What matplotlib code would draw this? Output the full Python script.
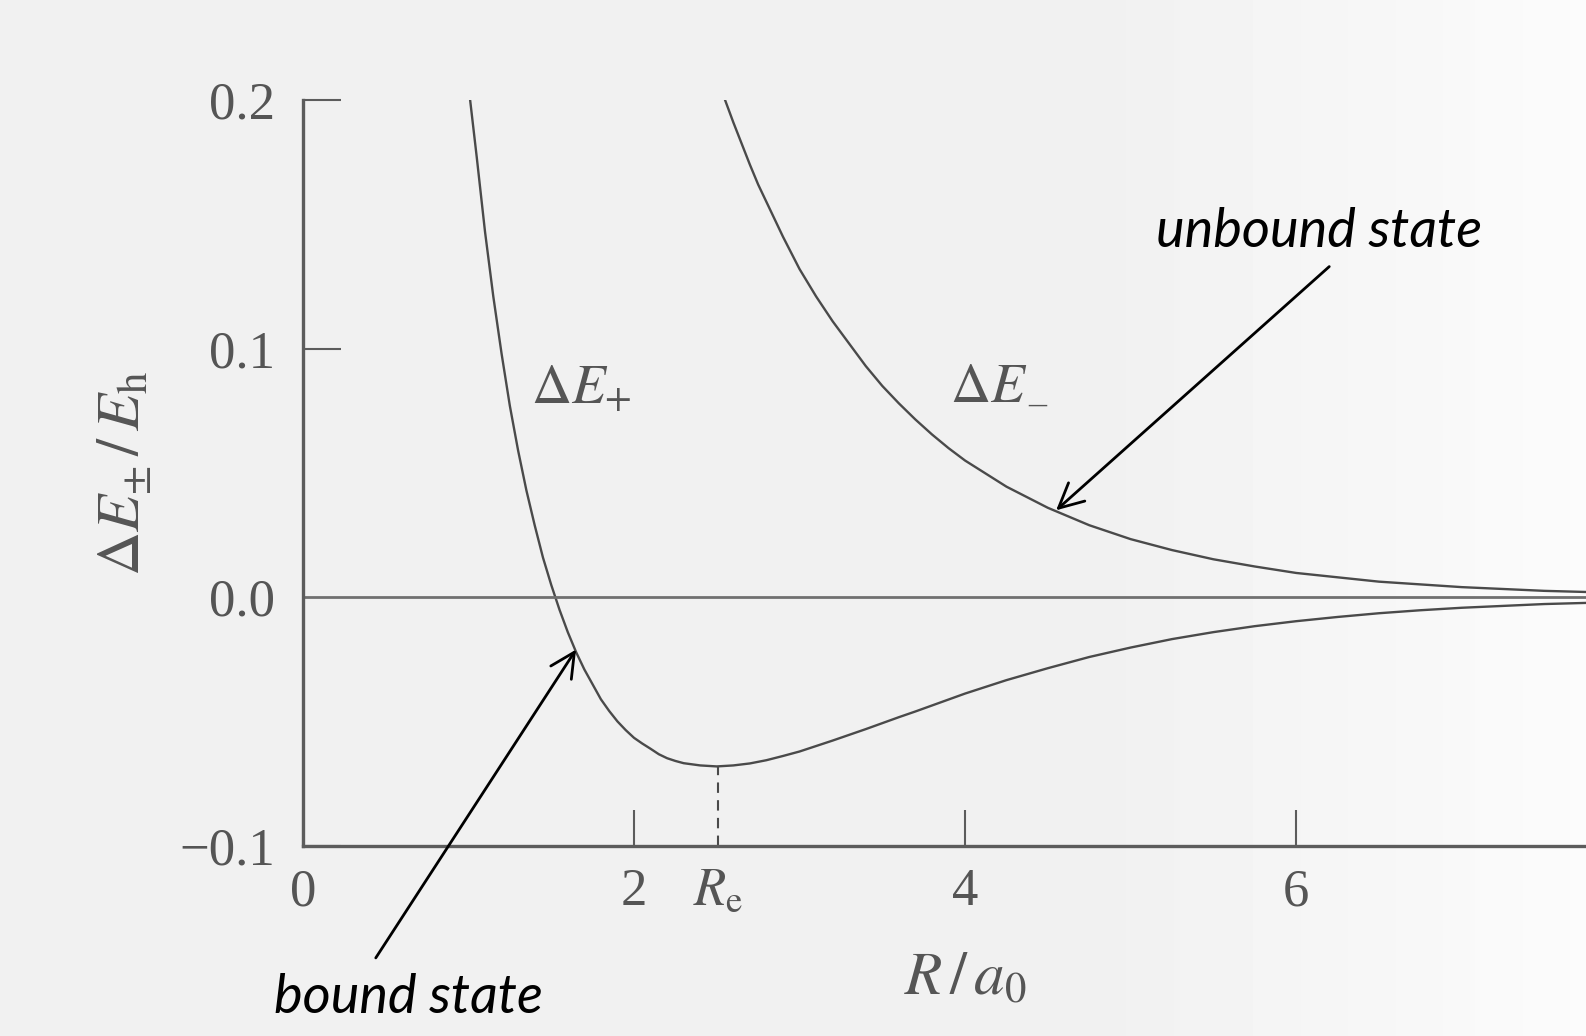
import numpy as np
import matplotlib
matplotlib.use('Agg')
import matplotlib.pyplot as plt

plt.rcParams['font.family'] = ['Liberation Serif', 'DejaVu Serif']
plt.rcParams['mathtext.fontset'] = 'stix'

# H2+ energy curves, separation in bohr, energy in hartree
r_plus = np.array([1.01, 1.05, 1.10, 1.15, 1.20, 1.25, 1.30, 1.35, 1.40, 1.45, 1.50, 1.55,
                   1.60, 1.65, 1.70, 1.75, 1.80, 1.85, 1.90, 1.95, 2.00, 2.05, 2.10, 2.15,
                   2.20, 2.25, 2.30, 2.40, 2.50, 2.60, 2.70, 2.80, 2.90, 3.00, 3.10, 3.20,
                   3.30, 3.40, 3.50, 3.60, 3.70, 3.80, 3.90, 4.00, 4.25, 4.50, 4.75, 5.00,
                   5.25, 5.50, 5.75, 6.00, 6.25, 6.50, 6.75, 7.00, 7.50, 8.00])
de_plus = np.array([0.200, 0.177, 0.147, 0.121, 0.098, 0.077, 0.059, 0.043, 0.029, 0.016,
                    0.005, -0.005, -0.014, -0.022, -0.029, -0.035, -0.041, -0.0457, -0.0499,
                    -0.0534, -0.0565, -0.0588, -0.0609, -0.0631, -0.0647, -0.0658, -0.0667,
                    -0.0676, -0.0680, -0.0676, -0.0668, -0.0655, -0.0638, -0.0620, -0.0598,
                    -0.0576, -0.0553, -0.0530, -0.0506, -0.0482, -0.0459, -0.0435, -0.0411,
                    -0.0387, -0.0333, -0.0285, -0.0240, -0.0202, -0.0168, -0.0140, -0.0116,
                    -0.0096, -0.0079, -0.0064, -0.0052, -0.0042, -0.0027, -0.0018])

r_minus = np.array([2.55, 2.60, 2.65, 2.70, 2.75, 2.80, 2.90, 3.00, 3.10, 3.20, 3.30, 3.40,
                    3.50, 3.60, 3.70, 3.80, 3.90, 4.00, 4.25, 4.50, 4.75, 5.00, 5.25, 5.50,
                    5.75, 6.00, 6.50, 7.00, 7.50, 8.00])
de_minus = np.array([0.200, 0.191, 0.1825, 0.174, 0.166, 0.159, 0.145, 0.132, 0.121, 0.111,
                     0.102, 0.093, 0.085, 0.078, 0.0715, 0.0655, 0.060, 0.055, 0.0445,
                     0.036, 0.029, 0.0234, 0.019, 0.0153, 0.0124, 0.0098, 0.0063, 0.0041,
                     0.0026, 0.0017])

r_e = 2.51
x_ticks = [0, 2, r_e, 4, 6]
x_ticklabels = ['0', '2', r'$R_{\mathrm{e}}$', '4', '6']
y_ticks = [-0.1, 0.0, 0.1, 0.2]
y_ticklabels = ['\u22120.1', '0.0', '0.1', '0.2']

ink = '#5c5c5c'
curve = '#4a4a4a'
label_grey = '#555555'

fig = plt.figure(figsize=(15.86, 10.36), dpi=100, facecolor='#f1f1f1')

# paper tone, a little brighter towards the right edge
bg = fig.add_axes([0, 0, 1, 1], zorder=-1)
shade = np.concatenate([np.full(70, 0.945), np.linspace(0.945, 0.985, 30)])
bg.imshow(shade[np.newaxis, :], cmap='gray', vmin=0, vmax=1, aspect='auto',
          extent=[0, 1, 0, 1])
bg.axis('off')

ax = fig.add_axes([0.191, 0.1834, 0.835, 0.7201])
ax.set_facecolor('none')

ax.plot(r_plus, de_plus, color=curve, lw=1.7)
ax.plot(r_minus, de_minus, color=curve, lw=1.7)
ax.axhline(0, color='#707070', lw=2.0)
ax.vlines(r_e, -0.1, de_plus.min(), colors=curve, lw=1.5, linestyles=(0, (5, 3.5)))

ax.set_xlim(0, 8)
ax.set_ylim(-0.1, 0.2)
for side in ['top', 'right']:
    ax.spines[side].set_visible(False)
for side in ['left', 'bottom']:
    ax.spines[side].set_color(ink)
    ax.spines[side].set_linewidth(2.4)

ax.set_xticks(x_ticks)
ax.set_xticklabels(x_ticklabels)
ax.set_yticks(y_ticks)
ax.set_yticklabels(y_ticklabels)
ax.tick_params(axis='x', direction='in', length=26, width=1.5, color=ink,
               labelcolor=label_grey, labelsize=38, pad=16)
ax.tick_params(axis='y', direction='in', length=27, width=1.5, color=ink,
               labelcolor=label_grey, labelsize=38, pad=20)
# no tick mark under R_e, the dashed line marks it
ax.xaxis.get_major_ticks()[2].tick1line.set_visible(False)
# the 0.0 tick sits on the zero line
ax.yaxis.get_major_ticks()[1].tick1line.set_visible(False)

ax.set_xlabel(r'$R\,/\,a_0$', fontsize=44, color=label_grey, labelpad=26)
ax.set_ylabel(r'$\Delta E_{\pm}\,/\,E_{\mathrm{h}}$', fontsize=44, color=label_grey,
              labelpad=18)

ax.text(1.68, 0.084, r'$\Delta E_{+}$', fontsize=40, color=label_grey,
        ha='center', va='center', clip_on=False)
# minus label: subscript dash set as its own text next to the Delta E
ax.text(4.14, 0.084, r'$\Delta E$', fontsize=40, color=label_grey,
        ha='center', va='center', clip_on=False)
ax.annotate('\u2013', xy=(4.14, 0.084), xytext=(29, -12), textcoords='offset points',
            fontsize=26, color=label_grey, ha='left', va='center')

# annotations
arrow = dict(arrowstyle='->,head_length=0.8,head_width=0.4', color='black', lw=2,
             mutation_scale=22, shrinkA=0, shrinkB=0)
ax.annotate('', xy=(4.55, 0.035), xytext=(6.20, 0.133), arrowprops=arrow,
            annotation_clip=False)
ax.annotate('', xy=(1.65, -0.021), xytext=(0.44, -0.145), arrowprops=arrow,
            annotation_clip=False)
ax.text(6.14, 0.147, 'unbound state', fontsize=39, style='italic', family='Lato',
        color='black', ha='center', va='center', clip_on=False)
ax.text(0.64, -0.161, 'bound state', fontsize=39, style='italic', family='Lato',
        color='black', ha='center', va='center', clip_on=False)

fig.savefig('out.png', dpi=100, facecolor=fig.get_facecolor())
